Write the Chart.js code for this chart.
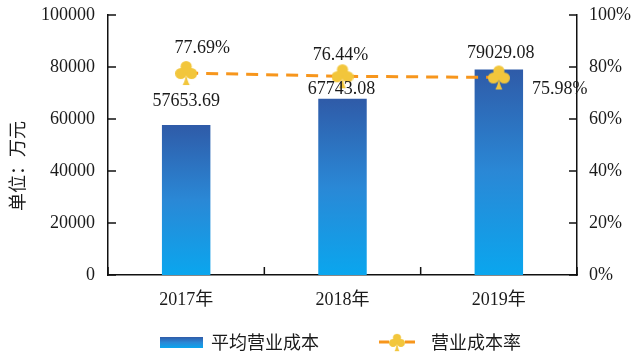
<!DOCTYPE html>
<html>
<head>
<meta charset="utf-8">
<script src="https://cdn.jsdelivr.net/npm/chart.js@4/dist/chart.umd.min.js"></script>
<style>
html,body{margin:0;padding:0;background:#fff;}
#wrap{width:640px;height:356px;position:relative;}
</style>
</head>
<body>
<div id="wrap"><canvas id="c" width="640" height="356"></canvas></div>
<script>
const categories = ['2017年', '2018年', '2019年'];
const avgCost = [57653.69, 67743.08, 79029.08];
const costRate = [77.69, 76.44, 75.98];
const costLabels = ['57653.69', '67743.08', '79029.08'];
const rateLabels = ['77.69%', '76.44%', '75.98%'];
const seriesNames = ['平均营业成本', '营业成本率'];
const yTitle = '单位：万元';
const leftTicks = [0, 20000, 40000, 60000, 80000, 100000];
const rightTicks = [0, 20, 40, 60, 80, 100];

const SERIF = '"Liberation Serif", "Noto Sans CJK SC", serif';
const CJK = '"Noto Sans CJK SC", sans-serif';
const TXT = '#1a1a1a';
const GOLD = '#F2C63C';
const ORANGE = '#F7961C';
const BLUE_TOP = '#2F5BA8';
const BLUE_BOT = '#0AA6EE';

function makeClub(){
  const c = document.createElement('canvas');
  c.width = 22; c.height = 26;
  const g = c.getContext('2d');
  g.fillStyle = GOLD;
  const circ = (x,y,r)=>{g.beginPath();g.arc(x,y,r,0,Math.PI*2);g.fill();};
  circ(11,6.5,5.6);
  circ(5.6,13.5,5.6);
  circ(16.4,13.5,5.6);
  circ(11,11.5,4);
  g.beginPath();
  g.moveTo(11,12);
  g.quadraticCurveTo(10.5,20,7.5,25);
  g.lineTo(14.5,25);
  g.quadraticCurveTo(11.5,20,11,12);
  g.fill();
  return c;
}
const club = makeClub();

function barGradient(ctx, top, bottom){
  const gr = ctx.createLinearGradient(0, top, 0, bottom);
  gr.addColorStop(0, BLUE_TOP);
  gr.addColorStop(0.5, '#2A88D6');
  gr.addColorStop(1, BLUE_BOT);
  return gr;
}

const tickPlugin = {
  id: 'innerTicks',
  afterDraw(chart){
    const ctx = chart.ctx;
    const a = chart.chartArea;
    const y = chart.scales.y, y1 = chart.scales.y1, x = chart.scales.x;
    ctx.save();
    ctx.strokeStyle = '#111';
    ctx.lineWidth = 1.5;
    ctx.beginPath();
    leftTicks.forEach(v=>{ const p = y.getPixelForValue(v); ctx.moveTo(a.left, p); ctx.lineTo(a.left+8, p); });
    rightTicks.forEach(v=>{ const p = y1.getPixelForValue(v); ctx.moveTo(a.right, p); ctx.lineTo(a.right-8, p); });
    for(let i=0;i<=categories.length;i++){
      const p = x.getPixelForValue(i-0.5);
      ctx.moveTo(p, a.bottom); ctx.lineTo(p, a.bottom-8);
    }
    ctx.stroke();
    ctx.restore();
  }
};

const labelPlugin = {
  id: 'valueLabels',
  afterDatasetsDraw(chart, args, opts){
    const ctx = chart.ctx;
    ctx.save();
    ctx.font = '18px ' + SERIF;
    ctx.fillStyle = TXT;
    ctx.textAlign = 'center';
    ctx.textBaseline = 'middle';
    const barMeta = chart.getDatasetMeta(0);
    const lineMeta = chart.getDatasetMeta(1);
    barMeta.data.forEach((el,i)=>{
      const o = opts.barOffsets[i];
      ctx.fillText(costLabels[i], el.x + o[0], el.y + o[1]);
    });
    lineMeta.data.forEach((el,i)=>{
      const o = opts.lineOffsets[i];
      ctx.fillText(rateLabels[i], el.x + o[0], el.y + o[1]);
    });
    ctx.restore();
  }
};

const legendPlugin = {
  id: 'customLegend',
  afterDraw(chart){
    const ctx = chart.ctx;
    ctx.save();
    // y-axis title
    ctx.save();
    ctx.translate(17, 166);
    ctx.rotate(-Math.PI/2);
    ctx.font = '18px ' + CJK;
    ctx.fillStyle = TXT;
    ctx.textAlign = 'center';
    ctx.textBaseline = 'middle';
    ctx.fillText(yTitle, 0, 0);
    ctx.restore();
    // legend
    const ly = 342;
    ctx.fillStyle = barGradient(ctx, 337, 348);
    ctx.fillRect(160, 337, 43, 11);
    ctx.font = '18px ' + CJK;
    ctx.fillStyle = TXT;
    ctx.textBaseline = 'middle';
    ctx.textAlign = 'left';
    ctx.fillText(seriesNames[0], 211, ly);
    ctx.strokeStyle = ORANGE;
    ctx.lineWidth = 3;
    ctx.beginPath();
    ctx.moveTo(379, ly); ctx.lineTo(389, ly);
    ctx.moveTo(405, ly); ctx.lineTo(415, ly);
    ctx.stroke();
    ctx.drawImage(club, 397-8, ly-9, 16, 19);
    ctx.fillStyle = TXT;
    ctx.fillText(seriesNames[1], 431, ly);
    ctx.restore();
  }
};

new Chart(document.getElementById('c'), {
  data: {
    labels: categories,
    datasets: [
      {
        type: 'bar',
        label: seriesNames[0],
        data: avgCost,
        yAxisID: 'y',
        order: 1,
        barPercentage: 0.31,
        categoryPercentage: 1,
        backgroundColor: (c)=>{
          const ch = c.chart;
          if(!ch.chartArea || c.dataIndex === undefined) return BLUE_TOP;
          const ys = ch.scales.y;
          const top = ys.getPixelForValue(avgCost[c.dataIndex]);
          const bot = ys.getPixelForValue(0);
          return barGradient(ch.ctx, top, bot);
        }
      },
      {
        type: 'line',
        label: seriesNames[1],
        data: costRate,
        yAxisID: 'y1',
        order: 0,
        borderColor: ORANGE,
        borderWidth: 3,
        borderDash: [12, 8],
        pointStyle: club,
        pointRadius: 11,
        tension: 0,
        fill: false
      }
    ]
  },
  options: {
    responsive: false,
    animation: false,
    devicePixelRatio: 1,
    layout: { padding: { top: 15, left: 0, right: 0, bottom: 0 } },
    plugins: {
      legend: { display: false },
      tooltip: { enabled: false },
      valueLabels: {
        barOffsets: [[0,-24],[-1,-10],[2,-16]],
        lineOffsets: [[16,-25],[-2,-21],[61,12]]
      }
    },
    scales: {
      x: {
        grid: { display: false, drawTicks: false },
        border: { display: true, color: '#111', width: 1.5 },
        ticks: { font: { size: 18, family: SERIF }, color: TXT, padding: 14 },
        afterFit(s){ s.height = 81; }
      },
      y: {
        position: 'left',
        min: 0, max: 100000,
        grid: { display: false, drawTicks: false },
        border: { display: true, color: '#111', width: 1.5 },
        ticks: { stepSize: 20000, font: { size: 18, family: SERIF }, color: TXT, padding: 13, callback: v => String(v) },
        afterFit(s){ s.width = 108; s.paddingTop = 0; s.paddingBottom = 0; }
      },
      y1: {
        position: 'right',
        min: 0, max: 100,
        grid: { display: false, drawTicks: false },
        border: { display: true, color: '#111', width: 1.5 },
        ticks: { stepSize: 20, font: { size: 18, family: SERIF }, color: TXT, padding: 12, callback: v => v + '%' },
        afterFit(s){ s.width = 63; s.paddingTop = 0; s.paddingBottom = 0; }
      }
    }
  },
  plugins: [tickPlugin, labelPlugin, legendPlugin]
});
</script>
</body>
</html>
